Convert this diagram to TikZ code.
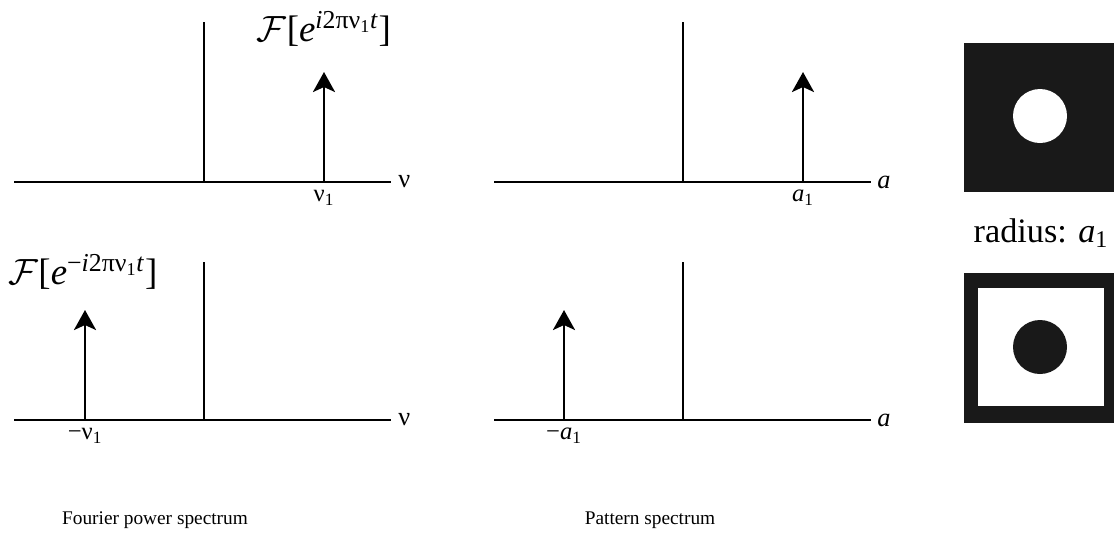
\documentclass[tikz,border=0pt]{standalone}
\usepackage{fontspec}
\setmainfont{Liberation Serif}
\usetikzlibrary{arrows.meta}

\begin{document}
\begin{tikzpicture}[x=0.02cm, y=-0.02cm,
  every node/.style={font=\fontsize{11}{13}\selectfont, inner sep=1pt},
  axis/.style={line width=1.6pt},
  spike/.style={line width=1.6pt, -{Stealth[length=0.4cm, width=0.44cm, inset=0.1cm]}},
  ftlabel/.style={font=\fontsize{21}{24}\selectfont, anchor=south},
  ticklabel/.style={anchor=north, inner sep=4.5pt, font=\fontsize{14}{16}\selectfont},
  axlabel/.style={anchor=west, inner sep=0pt, font=\fontsize{15}{17}\selectfont},
  blk/.style={fill=black!90, inner sep=0pt, minimum size=3cm},
  dot/.style={circle, inner sep=0pt, minimum size=1.08cm}
]
  \useasboundingbox (0,0) rectangle (1115,539);

  % Fourier power spectrum (top)
  \coordinate (fa-l) at (14,182);
  \coordinate (fa-r) at (391,182);
  \coordinate (fa-o) at (204,182);
  \coordinate (fa-t) at (204,22);
  \coordinate (fa-s) at (324,182);
  \coordinate (fa-tip) at (324,72);
  \draw[axis] (fa-l) -- (fa-r);
  \draw[axis] (fa-o) -- (fa-t);
  \draw[spike] (fa-s) -- (fa-tip);
  \node[axlabel] (fa-nu) at (398,182) {ν};
  \node[ticklabel] (fa-tick) at (fa-s) {ν\textsubscript{1}};
  \node[ftlabel] (fa-ft) at (324,49) {$\mathcal{F}$[\textit{e}\textsuperscript{\textit{i}2πν\textsubscript{1}\textit{t}}]};

  % Fourier power spectrum (bottom)
  \coordinate (fb-l) at (14,420);
  \coordinate (fb-r) at (391,420);
  \coordinate (fb-o) at (204,420);
  \coordinate (fb-t) at (204,262);
  \coordinate (fb-s) at (85,420);
  \coordinate (fb-tip) at (85,310);
  \draw[axis] (fb-l) -- (fb-r);
  \draw[axis] (fb-o) -- (fb-t);
  \draw[spike] (fb-s) -- (fb-tip);
  \node[axlabel] (fb-nu) at (398,420) {ν};
  \node[ticklabel] (fb-tick) at (fb-s) {−ν\textsubscript{1}};
  \node[ftlabel] (fb-ft) at (83,292) {$\mathcal{F}$[\textit{e}\textsuperscript{−\textit{i}2πν\textsubscript{1}\textit{t}}]};

  % Pattern spectrum (top)
  \coordinate (pa-l) at (494,182);
  \coordinate (pa-r) at (871,182);
  \coordinate (pa-o) at (683,182);
  \coordinate (pa-t) at (683,22);
  \coordinate (pa-s) at (803,182);
  \coordinate (pa-tip) at (803,72);
  \draw[axis] (pa-l) -- (pa-r);
  \draw[axis] (pa-o) -- (pa-t);
  \draw[spike] (pa-s) -- (pa-tip);
  \node[axlabel] (pa-a) at (877,182) {\textit{a}};
  \node[ticklabel] (pa-tick) at (pa-s) {\textit{a}\textsubscript{1}};

  % Pattern spectrum (bottom)
  \coordinate (pb-l) at (494,420);
  \coordinate (pb-r) at (871,420);
  \coordinate (pb-o) at (683,420);
  \coordinate (pb-t) at (683,262);
  \coordinate (pb-s) at (564,420);
  \coordinate (pb-tip) at (564,310);
  \draw[axis] (pb-l) -- (pb-r);
  \draw[axis] (pb-o) -- (pb-t);
  \draw[spike] (pb-s) -- (pb-tip);
  \node[axlabel] (pb-a) at (877,420) {\textit{a}};
  \node[ticklabel] (pb-tick) at (pb-s) {−\textit{a}\textsubscript{1}};

  % structuring elements
  \node[blk] (sea) at (1039,117.5) {};
  \node[dot, fill=white] (sea-hole) at (1040,116) {};
  \node[font=\fontsize{19.5}{22}\selectfont] (rad) at (1041,233) {radius: \textit{a}\textsubscript{1}};
  \node[blk] (seb) at (1039,348) {};
  \node[fill=white, inner sep=0pt, minimum width=2.52cm, minimum height=2.36cm] (seb-in) at (1041,347) {};
  \node[dot, fill=black!90] (seb-dot) at (1040,347) {};

  % captions
  \node (fcap) at (155,520) {Fourier power spectrum};
  \node (pcap) at (650,520) {Pattern spectrum};
\end{tikzpicture}
\end{document}
